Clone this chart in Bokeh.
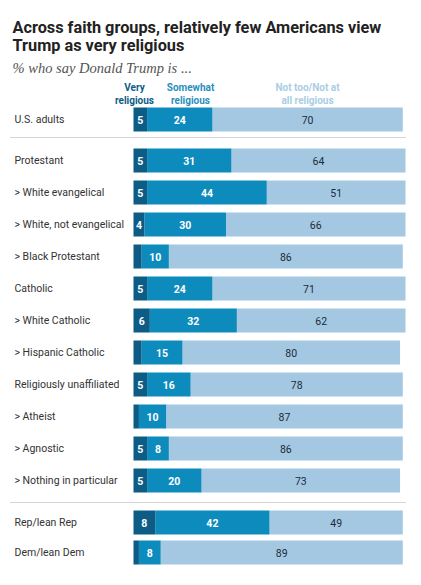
from bokeh.plotting import figure
from bokeh.models import Range1d, ColumnDataSource
from bokeh.core.properties import value
from bokeh.embed import file_html
from bokeh.resources import INLINE

# ---- data ----
categories = ["U.S. adults", "Protestant", "> White evangelical", "> White, not evangelical",
              "> Black Protestant", "Catholic", "> White Catholic", "> Hispanic Catholic",
              "Religiously unaffiliated", "> Atheist", "> Agnostic", "> Nothing in particular",
              "Rep/lean Rep", "Dem/lean Dem"]
very = [5, 5, 5, 4, 3, 5, 6, 3, 5, 2, 5, 5, 8, 2]
somewhat = [24, 31, 44, 30, 10, 24, 32, 15, 16, 10, 8, 20, 42, 8]
not_too = [70, 64, 51, 66, 86, 71, 62, 80, 78, 87, 86, 73, 49, 89]
series_names = ["Very religious", "Somewhat religious", "Not too/Not at all religious"]

title_lines = ["Across faith groups, relatively few Americans view", "Trump as very religious"]
subtitle = "% who say Donald Trump is ..."

# ---- layout ----
W, H = 416, 580
PX = 2.72                # pixels per percentage point
X0 = 133                 # page x of bar start
xs = (0 - X0) / PX
xe = (W - X0) / PX

def px_to_pct(x):
    return (x - X0) / PX

row_y = [119] + [160 + 32 * i for i in range(11)] + [522, 552]

C_VERY = "#0d5c86"
C_SOME = "#0e8bbd"
C_NOT = "#a4c8e2"

p = figure(width=W, height=H, output_backend="svg", toolbar_location=None,
           x_range=Range1d(xs, xe), y_range=Range1d(H, 0),
           x_axis_location=None, y_axis_location=None, min_border=0)
p.xgrid.visible = False
p.ygrid.visible = False
p.outline_line_color = None
p.background_fill_color = "white"
p.border_fill_color = "white"

left1 = [0] * len(very)
right1 = very
left2 = very
right2 = [a + b for a, b in zip(very, somewhat)]
left3 = right2
right3 = [a + b for a, b in zip(right2, not_too)]

src = ColumnDataSource(dict(y=row_y, l1=left1, r1=right1, l2=left2, r2=right2,
                            l3=left3, r3=right3, cat=categories))
p.hbar(y="y", left="l3", right="r3", height=24, fill_color=C_NOT, line_color=None, source=src)
p.hbar(y="y", left="l2", right="r2", height=24, fill_color=C_SOME, line_color=None, source=src)
p.hbar(y="y", left="l1", right="r1", height=24, fill_color=C_VERY, line_color=None, source=src)

# value labels
FONT = "Roboto"
def seg_labels(lefts, rights, vals, color, style):
    xx, yy, tt = [], [], []
    for l, r, v, y in zip(lefts, rights, vals, row_y):
        if v >= 4:
            xx.append((l + r) / 2)
            yy.append(y)
            tt.append(str(v))
    p.text(x=xx, y=yy, text=tt, text_align="center", text_baseline="middle",
           text_font=value(FONT), text_font_size="10.5px", text_color=color,
           text_font_style=style)

seg_labels(left1, right1, very, "white", "bold")
seg_labels(left2, right2, somewhat, "white", "bold")
seg_labels(left3, right3, not_too, "#1c2b3a", "normal")

# category labels
p.text(x=[px_to_pct(14)] * len(categories), y=row_y, text=categories,
       text_align="left", text_baseline="middle", text_font=value(FONT),
       text_font_size="10.5px", text_color="#333333")

# separators
for yy in [137, 502]:
    p.line(x=[px_to_pct(10), px_to_pct(405)], y=[yy, yy], line_color="#aaaaaa",
           line_dash="1 1", line_width=1)

# header labels
hdr = [("Very", "religious", 134, C_VERY), ("Somewhat", "religious", 190, "#2a8fbd"),
       ("Not too/Not at", "all religious", 307, "#a9cde6")]
for l1, l2, hx, col in hdr:
    p.text(x=[px_to_pct(hx)] * 2, y=[87, 100], text=[l1, l2], text_align="center",
           text_baseline="alphabetic", text_font=value(FONT), text_font_size="10px",
           text_font_style="bold", text_color=col)

# title and subtitle
p.text(x=[px_to_pct(12)] * 2, y=[27, 45], text=title_lines, text_align="left",
       text_baseline="alphabetic", text_font=value(FONT), text_font_size="16.3px",
       text_font_style="bold", text_color="#222222")
p.text(x=[px_to_pct(12)], y=[67], text=[subtitle], text_align="left",
       text_baseline="alphabetic", text_font=value("Liberation Serif"), text_font_size="14.5px",
       text_font_style="italic", text_color="#555555")

open("out.html", "w").write(file_html(p, INLINE))
